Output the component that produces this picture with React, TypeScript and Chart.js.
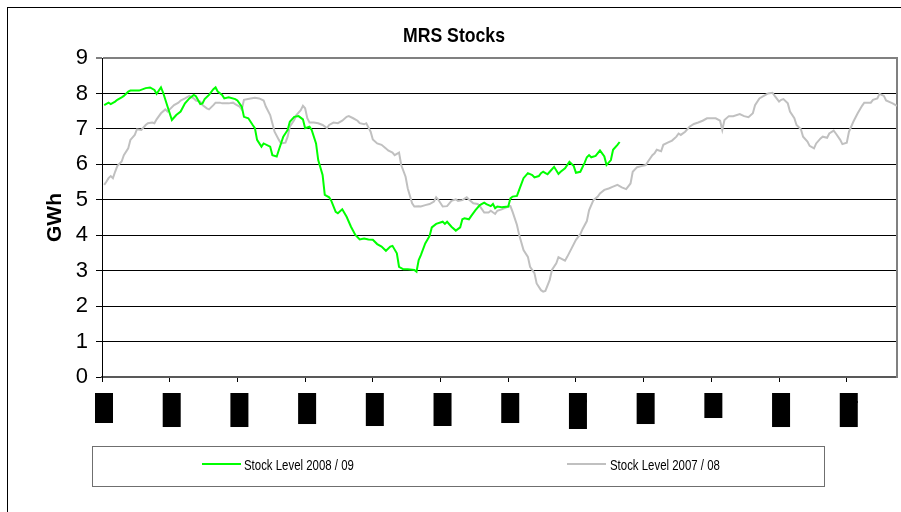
import React, { useEffect, useRef } from 'react';
import { Chart, registerables } from 'chart.js';

Chart.register(...registerables);

// ---- data ----
const chartTitle = 'MRS Stocks';
const yAxisTitle = 'GWh';
const monthLabels = ['Oct', 'Nov', 'Dec', 'Jan', 'Feb', 'Mar', 'Apr', 'May', 'Jun', 'Jul', 'Aug', 'Sep'];
const tickDays = [0, 31, 62, 93, 124, 155, 186, 217, 248, 279, 310, 341];
const yTicks = [0, 1, 2, 3, 4, 5, 6, 7, 8, 9];
const seriesNames = ['Stock Level 2008 / 09', 'Stock Level 2007 / 08'];

const days0809 = [1, 3, 4, 6, 7, 9, 10, 12, 13, 17, 20, 22, 24, 25, 27, 28, 30, 32, 34, 36, 38, 40, 42, 43, 45, 46, 47, 49, 51, 52, 53, 55, 56, 58, 61, 62, 64, 65, 67, 69, 70, 71, 73, 74, 77, 78, 80, 81, 83, 85, 86, 88, 90, 92, 93, 95, 96, 98, 99, 101, 102, 104, 105, 107, 108, 110, 112, 114, 116, 118, 120, 122, 124, 126, 128, 130, 132, 133, 135, 136, 138, 140, 143, 144, 145, 146, 148, 150, 151, 153, 156, 157, 158, 160, 162, 164, 165, 166, 168, 169, 171, 173, 175, 176, 178, 179, 180, 181, 183, 186, 187, 188, 190, 191, 193, 195, 197, 198, 200, 201, 202, 204, 205, 207, 209, 210, 212, 214, 216, 217, 219, 221, 222, 223, 224, 226, 228, 230, 231, 233, 234, 236, 237];
const stock0809 = [7.67, 7.74, 7.70, 7.77, 7.82, 7.89, 7.93, 8.05, 8.08, 8.08, 8.15, 8.17, 8.10, 7.99, 8.17, 8.02, 7.63, 7.25, 7.39, 7.49, 7.72, 7.86, 7.96, 7.92, 7.70, 7.72, 7.84, 7.96, 8.12, 8.17, 8.05, 7.96, 7.86, 7.89, 7.84, 7.80, 7.63, 7.34, 7.30, 7.11, 7.02, 6.69, 6.50, 6.59, 6.50, 6.26, 6.22, 6.41, 6.78, 6.97, 7.20, 7.34, 7.36, 7.27, 7.02, 7.06, 6.97, 6.59, 6.12, 5.70, 5.14, 5.07, 4.97, 4.66, 4.62, 4.73, 4.52, 4.24, 4.01, 3.88, 3.91, 3.88, 3.87, 3.75, 3.68, 3.56, 3.68, 3.70, 3.49, 3.11, 3.04, 3.04, 3.02, 2.97, 3.30, 3.44, 3.77, 3.98, 4.22, 4.32, 4.38, 4.32, 4.38, 4.24, 4.13, 4.22, 4.45, 4.48, 4.45, 4.54, 4.71, 4.85, 4.92, 4.88, 4.82, 4.88, 4.76, 4.81, 4.79, 4.81, 5.04, 5.09, 5.11, 5.28, 5.61, 5.75, 5.70, 5.63, 5.67, 5.75, 5.79, 5.72, 5.79, 5.93, 5.73, 5.79, 5.89, 6.07, 5.95, 5.76, 5.79, 6.05, 6.20, 6.26, 6.20, 6.24, 6.39, 6.22, 5.98, 6.12, 6.41, 6.55, 6.63];

const days0708 = [1, 2, 3, 4, 5, 6, 7, 9, 10, 12, 13, 15, 16, 18, 20, 21, 23, 24, 25, 27, 29, 30, 31, 33, 35, 36, 38, 40, 42, 43, 45, 46, 48, 49, 51, 52, 54, 55, 58, 60, 61, 63, 64, 65, 68, 70, 72, 74, 75, 77, 78, 79, 81, 82, 84, 85, 86, 88, 89, 91, 92, 93, 94, 95, 97, 99, 101, 103, 104, 106, 108, 110, 112, 113, 115, 117, 118, 120, 121, 123, 124, 126, 128, 130, 131, 133, 134, 136, 137, 139, 140, 142, 143, 145, 146, 148, 150, 152, 153, 154, 156, 158, 160, 162, 163, 165, 167, 168, 170, 172, 173, 175, 177, 178, 180, 181, 183, 186, 187, 188, 190, 191, 193, 195, 196, 198, 199, 201, 202, 203, 205, 206, 208, 209, 210, 212, 213, 215, 217, 219, 220, 222, 223, 225, 227, 228, 230, 232, 234, 236, 238, 240, 242, 243, 245, 247, 249, 250, 252, 253, 254, 256, 257, 259, 261, 263, 264, 265, 267, 269, 271, 273, 275, 277, 279, 281, 283, 284, 285, 287, 289, 292, 294, 296, 298, 299, 301, 303, 305, 307, 308, 310, 311, 312, 314, 315, 317, 318, 320, 321, 323, 324, 326, 327, 329, 330, 332, 333, 335, 336, 338, 339, 341, 342, 344, 346, 348, 349, 352, 353, 355, 356, 358, 359, 362, 364];
const stock0708 = [5.42, 5.51, 5.61, 5.67, 5.61, 5.79, 5.95, 6.08, 6.26, 6.45, 6.69, 6.83, 6.99, 6.97, 7.11, 7.16, 7.18, 7.16, 7.27, 7.44, 7.55, 7.49, 7.55, 7.67, 7.74, 7.80, 7.86, 7.93, 7.86, 7.80, 7.77, 7.67, 7.58, 7.55, 7.67, 7.74, 7.74, 7.72, 7.72, 7.74, 7.70, 7.63, 7.55, 7.82, 7.86, 7.88, 7.86, 7.80, 7.63, 7.39, 7.16, 6.92, 6.69, 6.59, 6.61, 6.78, 7.06, 7.25, 7.39, 7.53, 7.65, 7.58, 7.30, 7.18, 7.18, 7.16, 7.11, 7.02, 7.11, 7.18, 7.16, 7.23, 7.34, 7.36, 7.30, 7.23, 7.16, 7.13, 7.16, 6.92, 6.70, 6.59, 6.55, 6.45, 6.39, 6.33, 6.26, 6.33, 5.98, 5.65, 5.32, 4.90, 4.81, 4.82, 4.81, 4.85, 4.88, 4.95, 5.07, 5.00, 4.81, 4.82, 4.97, 5.01, 4.97, 4.99, 5.07, 5.01, 4.90, 4.88, 4.82, 4.64, 4.64, 4.69, 4.60, 4.69, 4.73, 4.81, 4.82, 4.66, 4.29, 4.01, 3.58, 3.39, 3.11, 2.93, 2.64, 2.45, 2.41, 2.43, 2.74, 3.02, 3.21, 3.38, 3.35, 3.28, 3.39, 3.63, 3.87, 4.03, 4.17, 4.40, 4.70, 4.99, 5.09, 5.18, 5.28, 5.32, 5.37, 5.42, 5.35, 5.30, 5.46, 5.79, 5.92, 5.95, 5.98, 6.08, 6.26, 6.31, 6.41, 6.37, 6.55, 6.61, 6.67, 6.78, 6.87, 6.83, 6.92, 7.06, 7.14, 7.18, 7.23, 7.30, 7.30, 7.30, 7.23, 6.97, 7.25, 7.36, 7.36, 7.42, 7.36, 7.33, 7.44, 7.67, 7.86, 7.93, 8.00, 8.02, 7.93, 7.77, 7.82, 7.84, 7.72, 7.49, 7.30, 7.11, 6.99, 6.78, 6.64, 6.52, 6.45, 6.59, 6.73, 6.78, 6.75, 6.87, 6.95, 6.87, 6.69, 6.57, 6.61, 6.92, 7.20, 7.44, 7.65, 7.74, 7.74, 7.82, 7.86, 7.99, 7.93, 7.80, 7.72, 7.65];

const seriesColors = ['#00FF00', '#C0C0C0'];

const SANS = "'Liberation Sans', Arial, sans-serif";

export default function App() {
  const canvasRef = useRef<HTMLCanvasElement | null>(null);

  useEffect(() => {
    const canvas = canvasRef.current;
    if (!canvas) return;
    const chart = new Chart(canvas, {
      type: 'line',
      data: {
        datasets: [
          {
            label: seriesNames[0],
            data: days0809.map((d, i) => ({ x: d, y: stock0809[i] })),
            borderColor: seriesColors[0],
            backgroundColor: seriesColors[0],
            borderWidth: 2,
            pointRadius: 0,
            tension: 0,
            fill: false,
            xAxisID: 'x',
            yAxisID: 'y',
            order: 1,
          },
          {
            label: seriesNames[1],
            data: days0708.map((d, i) => ({ x: d, y: stock0708[i] })),
            borderColor: seriesColors[1],
            backgroundColor: seriesColors[1],
            borderWidth: 2,
            pointRadius: 0,
            tension: 0,
            fill: false,
            xAxisID: 'x',
            yAxisID: 'y',
            order: 2,
          },
        ],
      },
      options: {
        animation: false,
        responsive: false,
        devicePixelRatio: 1,
        layout: { padding: { left: 11, right: 4, top: 58, bottom: 75 } },
        plugins: {
          legend: { display: false },
          tooltip: { enabled: false },
          title: { display: false },
        },
        scales: {
          x: {
            type: 'linear',
            min: 0,
            max: 364,
            afterBuildTicks: (s: any) => {
              s.ticks = tickDays.map((v) => ({ value: v }));
            },
            afterFit: (s: any) => {
              s.height = 60;
            },
            grid: { drawOnChartArea: false, drawTicks: true, tickLength: 5, color: '#000', lineWidth: 1 },
            border: { display: true, color: '#595959', width: 2 },
            ticks: {
              autoSkip: false,
              minRotation: 90,
              maxRotation: 90,
              padding: 12,
              labelOffset: -7,
              color: '#000',
              font: { family: SANS, size: 18, lineHeight: 1 },
              showLabelBackdrop: true,
              backdropColor: '#000',
              backdropPadding: { top: 0, bottom: 0, left: 1, right: 1 },
              callback: (v: any) => monthLabels[tickDays.indexOf(Number(v))] ?? '',
            },
          },
          y: {
            type: 'linear',
            position: 'left',
            min: 0,
            max: 9,
            afterBuildTicks: (s: any) => {
              s.ticks = yTicks.map((v) => ({ value: v }));
            },
            afterFit: (s: any) => {
              s.width = 91;
            },
            grid: {
              color: (c: any) => (c.tick && c.tick.value === 9 ? '#808080' : '#000'),
              lineWidth: (c: any) => (c.tick && c.tick.value === 9 ? 2 : 1),
              drawTicks: true,
              tickLength: 6,
            },
            border: { display: true, color: '#000', width: 1 },
            ticks: { padding: 8, color: '#000', font: { family: SANS, size: 22 } },
            title: {
              display: true,
              text: yAxisTitle,
              color: '#000',
              font: { family: SANS, size: 21, weight: 'bold', lineHeight: 1.2 },
              padding: { top: 32, bottom: 0 },
            },
          },
          y2: {
            type: 'linear',
            position: 'right',
            min: 0,
            max: 9,
            afterFit: (s: any) => {
              s.width = 0;
            },
            grid: { display: false, drawTicks: false },
            ticks: { display: false },
            border: { display: true, color: '#808080', width: 2 },
          },
        },
      },
    } as any);
    return () => chart.destroy();
  }, []);

  const legendLinePos = [109, 474];
  const legendTextPos = [151, 517];

  return (
    <div style={{ position: 'absolute', left: 0, top: 0, width: 901, height: 512, overflow: 'hidden', background: '#fff' }}>
      <canvas ref={canvasRef} width={901} height={512} style={{ position: 'absolute', left: 0, top: 0, width: 901, height: 512 }} />
      <div
        style={{
          position: 'absolute',
          left: 7,
          top: 7,
          width: 1200,
          height: 1200,
          borderLeft: '1px solid #000',
          borderTop: '1px solid #000',
          pointerEvents: 'none',
        }}
      />
      <div
        style={{
          position: 'absolute',
          left: 454,
          top: 24,
          font: `bold 21px ${SANS}`,
          lineHeight: '21px',
          color: '#000',
          whiteSpace: 'nowrap',
          transform: 'translateX(-50%) scaleX(0.84)',
        }}
      >
        {chartTitle}
      </div>
      <div
        style={{
          position: 'absolute',
          left: 92,
          top: 446,
          width: 731,
          height: 39,
          border: '1px solid #6f6f6f',
          background: '#fff',
        }}
      >
        {seriesNames.map((name, i) => (
          <React.Fragment key={name}>
            <span
              style={{
                position: 'absolute',
                left: legendLinePos[i],
                top: 16,
                width: 39,
                height: 2,
                background: seriesColors[i],
              }}
            />
            <span
              style={{
                position: 'absolute',
                left: legendTextPos[i],
                top: 10,
                font: `15px ${SANS}`,
                lineHeight: '15px',
                color: '#000',
                whiteSpace: 'nowrap',
                transform: 'scaleX(0.762)',
                transformOrigin: 'left center',
              }}
            >
              {name}
            </span>
          </React.Fragment>
        ))}
      </div>
    </div>
  );
}
